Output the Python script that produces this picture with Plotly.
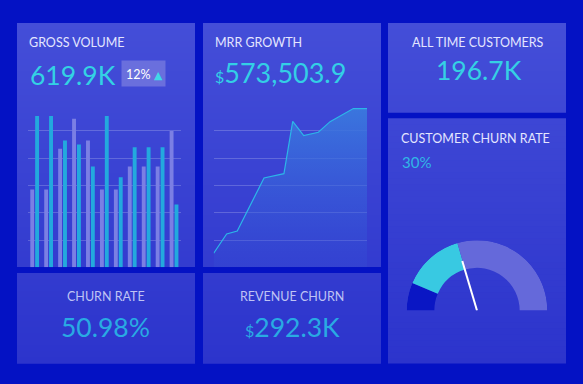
import plotly.graph_objects as go

# ---------------- data ----------------
bar_categories = list(range(1, 12))
gross_prev = [57, 57, 87, 109, 93, 57, 57, 74, 74, 74, 100]
gross_curr = [111, 111, 93, 90, 74, 111, 66, 88, 88, 88, 46]
grid_values = [20, 40, 60, 80, 100]

mrr_x = [0, 0.93, 1.69, 3.61, 5.04, 5.67, 6.46, 7.51, 8.35, 9.07, 10.02, 11]
mrr_y = [10.3, 24.4, 26.6, 65.5, 68.7, 107.0, 96.6, 99.0, 106.8, 111.0, 116.4, 116.4]

gauge_bounds = [0, 12.8, 41, 100]
gauge_colors = ["#0a16c4", "#38c9e2", "#6569da"]
needle_value = 40.8

kpi_gross = "619.9K"
kpi_gross_change = "12%"
kpi_mrr = "573,503.9"
kpi_customers = "196.7K"
kpi_customer_churn = "30%"
kpi_churn_rate = "50.98%"
kpi_revenue_churn = "292.3K"

# ---------------- helpers ----------------
W, H = 583, 384
def px(x):
    return x / W
def py(y):
    return 1 - y / H

BG = "#0412c4"
FONT = "Lato"

fig = go.Figure()

# Gross volume bars
fig.add_trace(go.Bar(x=bar_categories, y=gross_prev, marker=dict(color="#7b7fe4", line_width=0),
                     xaxis="x", yaxis="y", hoverinfo="skip"))
fig.add_trace(go.Bar(x=bar_categories, y=gross_curr, marker=dict(color="#23a9de", line_width=0),
                     xaxis="x", yaxis="y", hoverinfo="skip"))

# MRR growth area
fig.add_trace(go.Scatter(x=mrr_x, y=mrr_y, mode="lines", line=dict(color="#2cb6e8", width=1.2),
                         fill="tozeroy",
                         fillgradient=dict(type="vertical",
                                           colorscale=[[0, "rgba(52,82,214,0.25)"], [1, "rgba(58,120,222,0.95)"]]),
                         xaxis="x2", yaxis="y2", hoverinfo="skip"))

# Gauge (barpolar ring)
thetas, widths = [], []
for a, b in zip(gauge_bounds[:-1], gauge_bounds[1:]):
    thetas.append((a + b) / 2 * 1.8)
    widths.append((b - a) * 1.8)
fig.add_trace(go.Barpolar(theta=thetas, width=widths, r=[0.393] * len(thetas), base=[0.607] * len(thetas),
                          marker=dict(color=gauge_colors, line_width=0), subplot="polar", hoverinfo="skip"))
fig.add_trace(go.Scatterpolar(theta=[needle_value * 1.8, needle_value * 1.8], r=[0, 0.735], mode="lines",
                              line=dict(color="white", width=2), subplot="polar", hoverinfo="skip"))

# ---------------- panels ----------------
shapes = []
panels = [(17, 23, 195, 267), (203, 23, 381, 267), (388, 23, 566, 112.7),
          (388, 118.3, 566, 363.5), (17, 273, 195, 363.5), (203, 273, 381, 363.5)]
top_c = (68, 78, 216)
bot_c = (44, 52, 204)
def col(y):
    t = (y - 23) / (363.5 - 23)
    t = min(max(t, 0), 1)
    return "rgb(%d,%d,%d)" % tuple(round(a + (b - a) * t) for a, b in zip(top_c, bot_c))

for (x0, y0, x1, y1) in panels:
    step = 6
    y = y0
    while y < y1:
        ye = min(y + step, y1)
        shapes.append(dict(type="rect", xref="paper", yref="paper", x0=px(x0), x1=px(x1),
                           y0=py(min(ye + 0.6, y1)), y1=py(y), fillcolor=col((y + ye) / 2),
                           line=dict(width=0), layer="below"))
        y = ye

# badge
shapes.append(dict(type="rect", xref="paper", yref="paper", x0=px(121.5), x1=px(165.5),
                   y0=py(86.5), y1=py(60.5), fillcolor="#6a6fdd", line=dict(width=0), layer="below"))

# ---------------- text ----------------
ann = []
def text(x, y, s, size, color, anchor="left"):
    ann.append(dict(x=px(x), y=py(y), xref="paper", yref="paper", text=s, showarrow=False,
                    xanchor=anchor, yanchor="middle", font=dict(family=FONT, size=size, color=color),
                    borderpad=0))

TITLE = "#e4e6ff"
text(27.5, 42, "GROSS VOLUME", 12.5, TITLE)
text(213.5, 42, "MRR GROWTH", 12.5, TITLE)
text(477.5, 42, "ALL TIME CUSTOMERS", 12.5, TITLE, "center")
text(400, 138.5, "CUSTOMER CHURN RATE", 12.5, TITLE)
text(106, 296, "CHURN RATE", 12.5, "#bfc3f4", "center")
text(292, 296, "REVENUE CHURN", 12.5, "#bfc3f4", "center")

text(28.5, 75, kpi_gross, 26.5, "#33d2e4")
text(125, 74, kpi_gross_change + "<span style='color:#3fd8e8;font-family:DejaVu Sans;font-size:11px'> ▲</span>", 12.5, "#ffffff")
text(214, 72, "<span style='font-size:16px'>$</span>" + kpi_mrr, 27, "#33cfe6")
text(479, 70, kpi_customers, 26.5, "#35d0e4", "center")
text(400.5, 162, kpi_customer_churn, 15, "#31b6e6")
text(105.5, 327, kpi_churn_rate, 26.5, "#29aae3", "center")
text(292, 327, "<span style='font-size:16px'>$</span>" + kpi_revenue_churn, 26.5, "#29aae3", "center")

grid = "rgba(255,255,255,0.2)"
ydom = [py(267.3), py(100)]
yrange = [0, 122.7]
axis_common = dict(showticklabels=False, ticks="", zeroline=False, showline=False, fixedrange=True)

fig.update_layout(
    width=W, height=H, margin=dict(l=0, r=0, t=0, b=0),
    paper_bgcolor=BG, plot_bgcolor="rgba(0,0,0,0)",
    showlegend=False, barmode="group", bargap=0.3, bargroupgap=0.2,
    shapes=shapes, annotations=ann,
    xaxis=dict(domain=[px(27.7), px(181)], range=[0.5, 11.5], showgrid=False, **axis_common),
    yaxis=dict(domain=ydom, range=yrange, showgrid=True, gridcolor=grid, gridwidth=1,
               tickmode="array", tickvals=grid_values, **axis_common),
    xaxis2=dict(domain=[px(213.7), px(367)], range=[0, 11], showgrid=False, anchor="y2", **axis_common),
    yaxis2=dict(domain=ydom, range=yrange, showgrid=True, gridcolor=grid, gridwidth=1,
                tickmode="array", tickvals=grid_values, anchor="x2", **axis_common),
    polar=dict(domain=dict(x=[px(406.7), px(547.3)], y=[py(310.7), py(240)]),
               sector=[0, 180], bgcolor="rgba(0,0,0,0)",
               radialaxis=dict(visible=False, range=[0, 1]),
               angularaxis=dict(visible=False, rotation=180, direction="clockwise")),
)

fig.write_html("out.html", config={"displayModeBar": False},
               post_script="document.body.style.margin='0px';document.body.style.overflow='hidden';")
